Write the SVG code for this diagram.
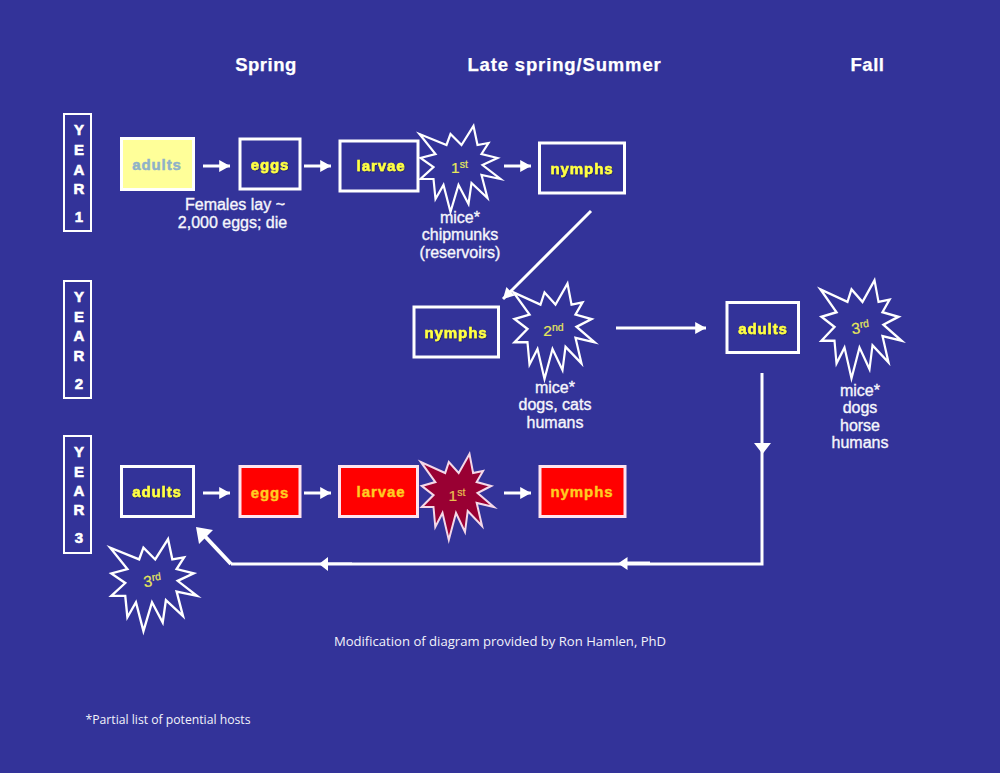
<svg xmlns="http://www.w3.org/2000/svg" xmlns:xlink="http://www.w3.org/1999/xlink" width="1000" height="773" viewBox="0 0 1000 773">
<style>
text{font-family:"Liberation Sans",Arial,sans-serif;text-anchor:middle}
.h{font-weight:700;font-size:18.5px;fill:#fff;letter-spacing:.5px;stroke:#fff;stroke-width:.25px}
.box{fill:#333399;stroke:#fff;stroke-width:3}
.red{fill:#f00;stroke:#fde4ee;stroke-width:3}
.yb{fill:#ffff99;stroke:#fff;stroke-width:3}
.yr{fill:#333399;stroke:#fff;stroke-width:2}
.star{fill:#333399;stroke:#fff;stroke-width:2.2;stroke-linejoin:miter;stroke-miterlimit:14}
.n{font-weight:700;font-size:15px;fill:#ffff44;letter-spacing:.9px;stroke:#ffff44;stroke-width:.5px;filter:url(#sh)}
.nr{font-weight:700;font-size:15px;fill:#ffcc22;letter-spacing:.9px;stroke:#ffcc22;stroke-width:.4px}
.o{font-size:16px;fill:#f6f6fc;font-weight:400;stroke:#f6f6fc;stroke-width:.35px}
.y{font-weight:700;font-size:15px;fill:#fff;stroke:#fff;stroke-width:.6px}
.st{font-size:15.5px;fill:#e8e85a;stroke:#e8e85a;stroke-width:.2px}
.c{font-family:"Open Sans","Noto Sans",sans-serif;font-size:13.1px;fill:#f2f2fa}
.l{fill:none;stroke:#fff;stroke-width:3}
.s{fill:none;stroke:#fff;stroke-width:3;marker-end:url(#a)}
</style>
<defs>
<filter id="sh" x="-10%" y="-20%" width="120%" height="140%"><feDropShadow dx=".6" dy=".6" stdDeviation=".5" flood-color="#1a1a40" flood-opacity=".8"/></filter>
<marker id="a" markerUnits="userSpaceOnUse" markerWidth="12" markerHeight="12" refX="10" refY="5" viewBox="0 0 10 10" orient="auto"><path d="M1 0L10 5L1 10Z" fill="#fff"/></marker>
<path id="burst" d="M15-41L19-22L30-24L23-13L39-9L24-2L42 12L23 8L29 31L13 16L10 37L0 18L-8 45L-15 18L-23 32L-25 12L-38 12L-25 0L-38-9L-23-13L-39-33L-12-22L-8-33L3-22Z"/>
</defs>
<rect id="background" width="1000" height="773" fill="#333399"/>
<g id="headers">
<text class="h" x="266" y="71">Spring</text>
<text class="h" style="letter-spacing:.85px" x="564.500" y="71">Late spring/Summer</text>
<text class="h" x="867.500" y="70.500">Fall</text>
</g>
<g id="year1"><rect class="yr" x="64" y="114" width="27" height="117"/><text class="y" x="79" y="135">Y</text><text class="y" x="79" y="155">E</text><text class="y" x="79" y="175">A</text><text class="y" x="79" y="194">R</text><text class="y" x="79" y="222">1</text></g>
<g id="year2"><rect class="yr" x="64" y="281" width="27" height="117"/><text class="y" x="79" y="302">Y</text><text class="y" x="79" y="322">E</text><text class="y" x="79" y="341">A</text><text class="y" x="79" y="361">R</text><text class="y" x="79" y="389">2</text></g>
<g id="year3"><rect class="yr" x="64" y="436" width="27" height="117"/><text class="y" x="79" y="457">Y</text><text class="y" x="79" y="477">E</text><text class="y" x="79" y="496">A</text><text class="y" x="79" y="515">R</text><text class="y" x="79" y="543">3</text></g>

<g id="connectors">
<path class="s" d="M203 166H230"/><path class="s" d="M304 166H331"/><path class="s" d="M504 166H531"/>
<path class="s" d="M203 493H230"/><path class="s" d="M304 493H331"/><path class="s" d="M504 493H531"/>
<path class="s" d="M591 211L503 299"/>
<path class="s" d="M616 328H706"/>
<path class="l" d="M762 373V564H231"/>
<path fill="none" stroke="#fff" stroke-width="4" d="M231 564L200 531"/>
<path fill="#fff" d="M754 443H771L762.500 454Z M627.500 557V570L618 563.500Z M328 557V571L319 564Z M196 527L213 530L199 544Z M627 561.500H650V564H627Z M328 562.500H352V565H328Z"/>
</g>

<g id="y1-adults"><rect class="yb" x="121.500" y="138.500" width="72" height="51"/><text class="n" style="fill:#8fb2c8;stroke:#8fb2c8;filter:none" x="157" y="170">adults</text></g>
<g id="y1-eggs"><rect class="box" x="240" y="139" width="60" height="50"/><text class="n" x="270" y="170">eggs</text></g>
<g id="y1-larvae"><rect class="box" x="340" y="141" width="78" height="50"/><text class="n" x="381" y="171">larvae</text></g>
<g id="y1-star"><use class="star" xlink:href="#burst" href="#burst" transform="translate(458.500 167)"/><text class="st" x="459.500" y="173">1<tspan dy="-5" font-size="10.500">st</tspan></text></g>
<g id="y1-nymphs"><rect class="box" x="539.500" y="143" width="85" height="50"/><text class="n" x="582" y="174">nymphs</text></g>
<g id="y1-notes"><text class="o" x="235" y="210">Females lay ~</text><text class="o" x="232.500" y="228">2,000 eggs; die</text>
<text class="o" x="460" y="223">mice*</text><text class="o" x="460" y="240">chipmunks</text><text class="o" x="460" y="258">(reservoirs)</text></g>

<g id="y2-nymphs"><rect class="box" x="414" y="307" width="84.500" height="50"/><text class="n" x="456" y="338">nymphs</text></g>
<g id="y2-star"><use class="star" xlink:href="#burst" href="#burst" transform="translate(552.500 329) scale(1 1.11)"/><text class="st" x="553.500" y="336">2<tspan dy="-5" font-size="10.500">nd</tspan></text></g>
<g id="y2-notes"><text class="o" x="555" y="393">mice*</text><text class="o" x="555" y="410">dogs, cats</text><text class="o" x="555" y="428">humans</text></g>
<g id="y2-adults"><rect class="box" x="727" y="302.500" width="71.500" height="50"/><text class="n" x="763" y="334">adults</text></g>
<g id="y2-star3"><use class="star" xlink:href="#burst" href="#burst" transform="translate(859.500 327) scale(1 1.14)"/><text class="st" x="860.500" y="333" transform="rotate(-8 860.500 328)">3<tspan dy="-5" font-size="10.500">rd</tspan></text></g>
<g id="y2-notes3"><text class="o" x="860" y="396">mice*</text><text class="o" x="860" y="413">dogs</text><text class="o" x="860" y="431">horse</text><text class="o" x="860" y="448">humans</text></g>

<g id="y3-adults"><rect class="box" x="121.500" y="466.500" width="72" height="50"/><text class="n" x="157" y="497">adults</text></g>
<g id="y3-eggs"><rect class="red" x="240" y="466.500" width="60" height="50"/><text class="nr" x="270" y="498">eggs</text></g>
<g id="y3-larvae"><rect class="red" x="339.500" y="466.500" width="78" height="50"/><text class="nr" x="381" y="497">larvae</text></g>
<g id="y3-star"><use class="star" style="fill:#990033;stroke:#f4d8e8" xlink:href="#burst" href="#burst" transform="translate(456 495) scale(.9 1)"/><text class="st" style="fill:#e8c050;stroke:#e8c050" x="457" y="501">1<tspan dy="-5" font-size="10.500">st</tspan></text></g>
<g id="y3-nymphs"><rect class="red" x="540" y="466.500" width="85" height="50"/><text class="nr" x="582" y="497">nymphs</text></g>
<g id="y3-star3"><use class="star" xlink:href="#burst" href="#burst" transform="translate(152 583) scale(1.07)"/><text class="st" x="152.500" y="586" transform="rotate(-8 152.500 581)">3<tspan dy="-5" font-size="10.500">rd</tspan></text></g>

<g id="footnotes"><text class="c" x="500" y="646">Modification of diagram provided by Ron Hamlen, PhD</text><text class="c" style="font-size:12.2px" x="168" y="724">*Partial list of potential hosts</text></g>
</svg>
